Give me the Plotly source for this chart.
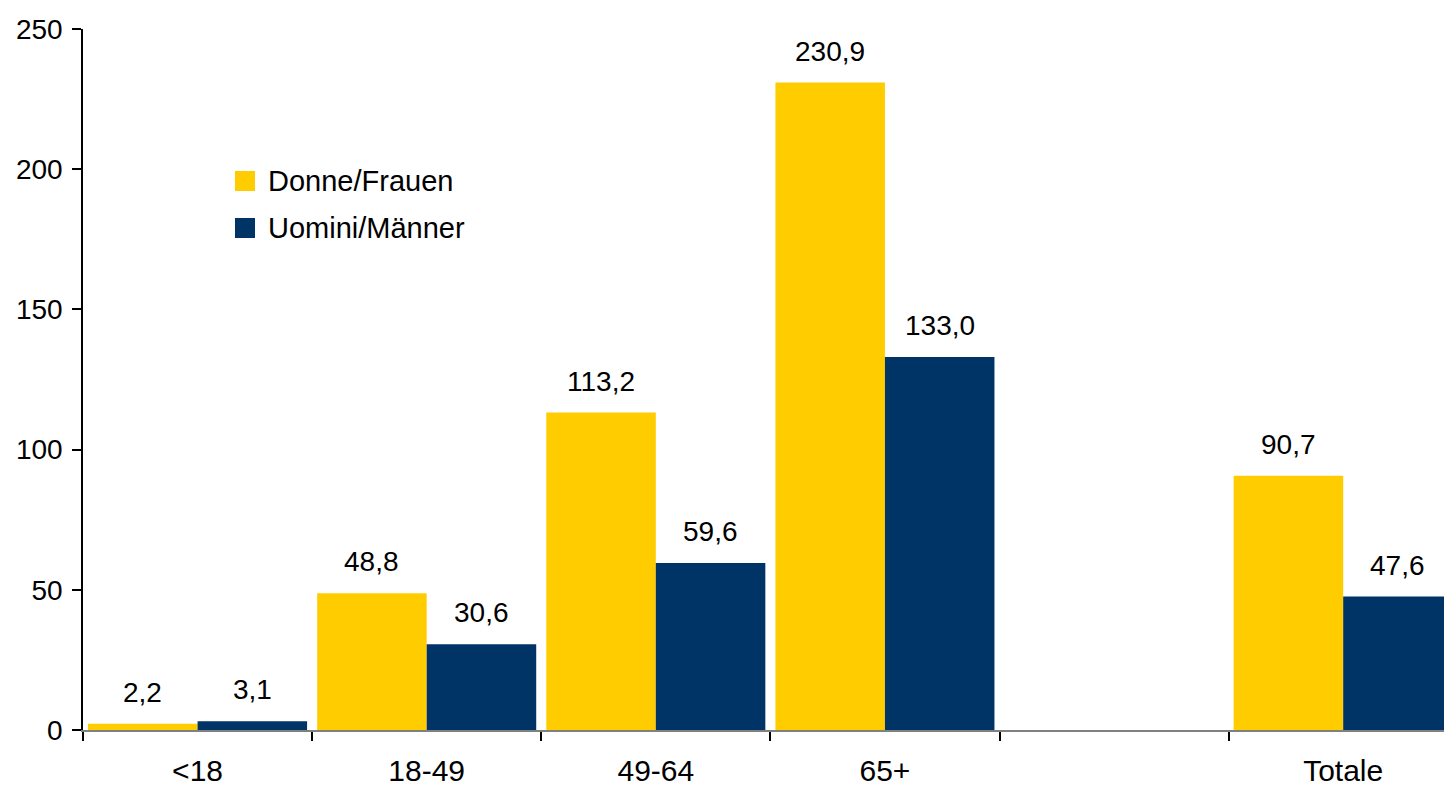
import plotly.graph_objects as go

categories = ["<18", "18-49", "49-64", "65+", " ", "Totale"]
donne = [2.2, 48.8, 113.2, 230.9, None, 90.7]
uomini = [3.1, 30.6, 59.6, 133.0, None, 47.6]
series_names = ["Donne/Frauen", "Uomini/Männer"]
colors = ["#FFCC00", "#003366"]
y_ticks = [0, 50, 100, 150, 200, 250]

FONT = "Liberation Sans, Arial, sans-serif"
L, T, W, H = 83, 29, 1361, 701

fig = go.Figure()
for name, vals, col in zip(series_names, [donne, uomini], colors):
    fig.add_trace(go.Bar(
        x=categories, y=vals, name=name, marker=dict(color=col, line=dict(width=0)),
        hoverinfo="skip", showlegend=False,
    ))

def fmt(v):
    return f"{v:.1f}".replace(".", ",")

cat_px = W / 5.94
bar_px = cat_px * (1 - 0.044) / 2
annotations = []
for vals, sgn in [(donne, -1), (uomini, 1)]:
    for c, v in zip(categories, vals):
        if v is None:
            continue
        annotations.append(dict(
            x=c, y=v, xref="x", yref="y", text=fmt(v), showarrow=False,
            xshift=sgn * bar_px / 2, yshift=14, yanchor="bottom",
            font=dict(family=FONT, size=28, color="black"),
        ))

# manual legend (paper coordinates from pixel layout)
def px_x(p):
    return (p - L) / W

def px_y(p):
    return (T + H - p) / H

shapes = []
for i, (name, col) in enumerate(zip(series_names, colors)):
    cy = 181 + i * 47
    shapes.append(dict(type="rect", xref="paper", yref="paper",
                       x0=px_x(235), x1=px_x(255), y0=px_y(cy + 10), y1=px_y(cy - 10),
                       fillcolor=col, line=dict(width=0)))
    annotations.append(dict(x=px_x(266), y=px_y(cy), xref="paper", yref="paper",
                            text=name, showarrow=False, xanchor="left", yanchor="middle",
                            font=dict(family=FONT, size=29, color="black")))

fig.update_layout(
    width=1444, height=789,
    margin=dict(l=L, r=0, t=T, b=789 - T - H),
    paper_bgcolor="white", plot_bgcolor="white",
    barmode="group", bargap=0.044, bargroupgap=0,
    font=dict(family=FONT, size=28, color="black"),
    showlegend=False,
    annotations=annotations, shapes=shapes,
    xaxis=dict(
        type="category", range=[-0.5, 5.44],
        showline=True, linecolor="#808080", linewidth=2,
        ticks="outside", ticklen=9, tickcolor="black", tickwidth=1.5,
        tickson="boundaries", showgrid=False, zeroline=False,
        ticklabelstandoff=13, tickfont=dict(size=30),
    ),
    yaxis=dict(
        range=[0, 250], tickvals=y_ticks,
        showline=True, linecolor="black", linewidth=1.5,
        ticks="outside", ticklen=9, tickcolor="black", tickwidth=1.5,
        showgrid=False, zeroline=False, ticklabelstandoff=4,
    ),
)
fig.write_html("out.html", config={"displayModeBar": False},
               post_script="document.body.style.margin='0';document.body.style.overflow='hidden';")
